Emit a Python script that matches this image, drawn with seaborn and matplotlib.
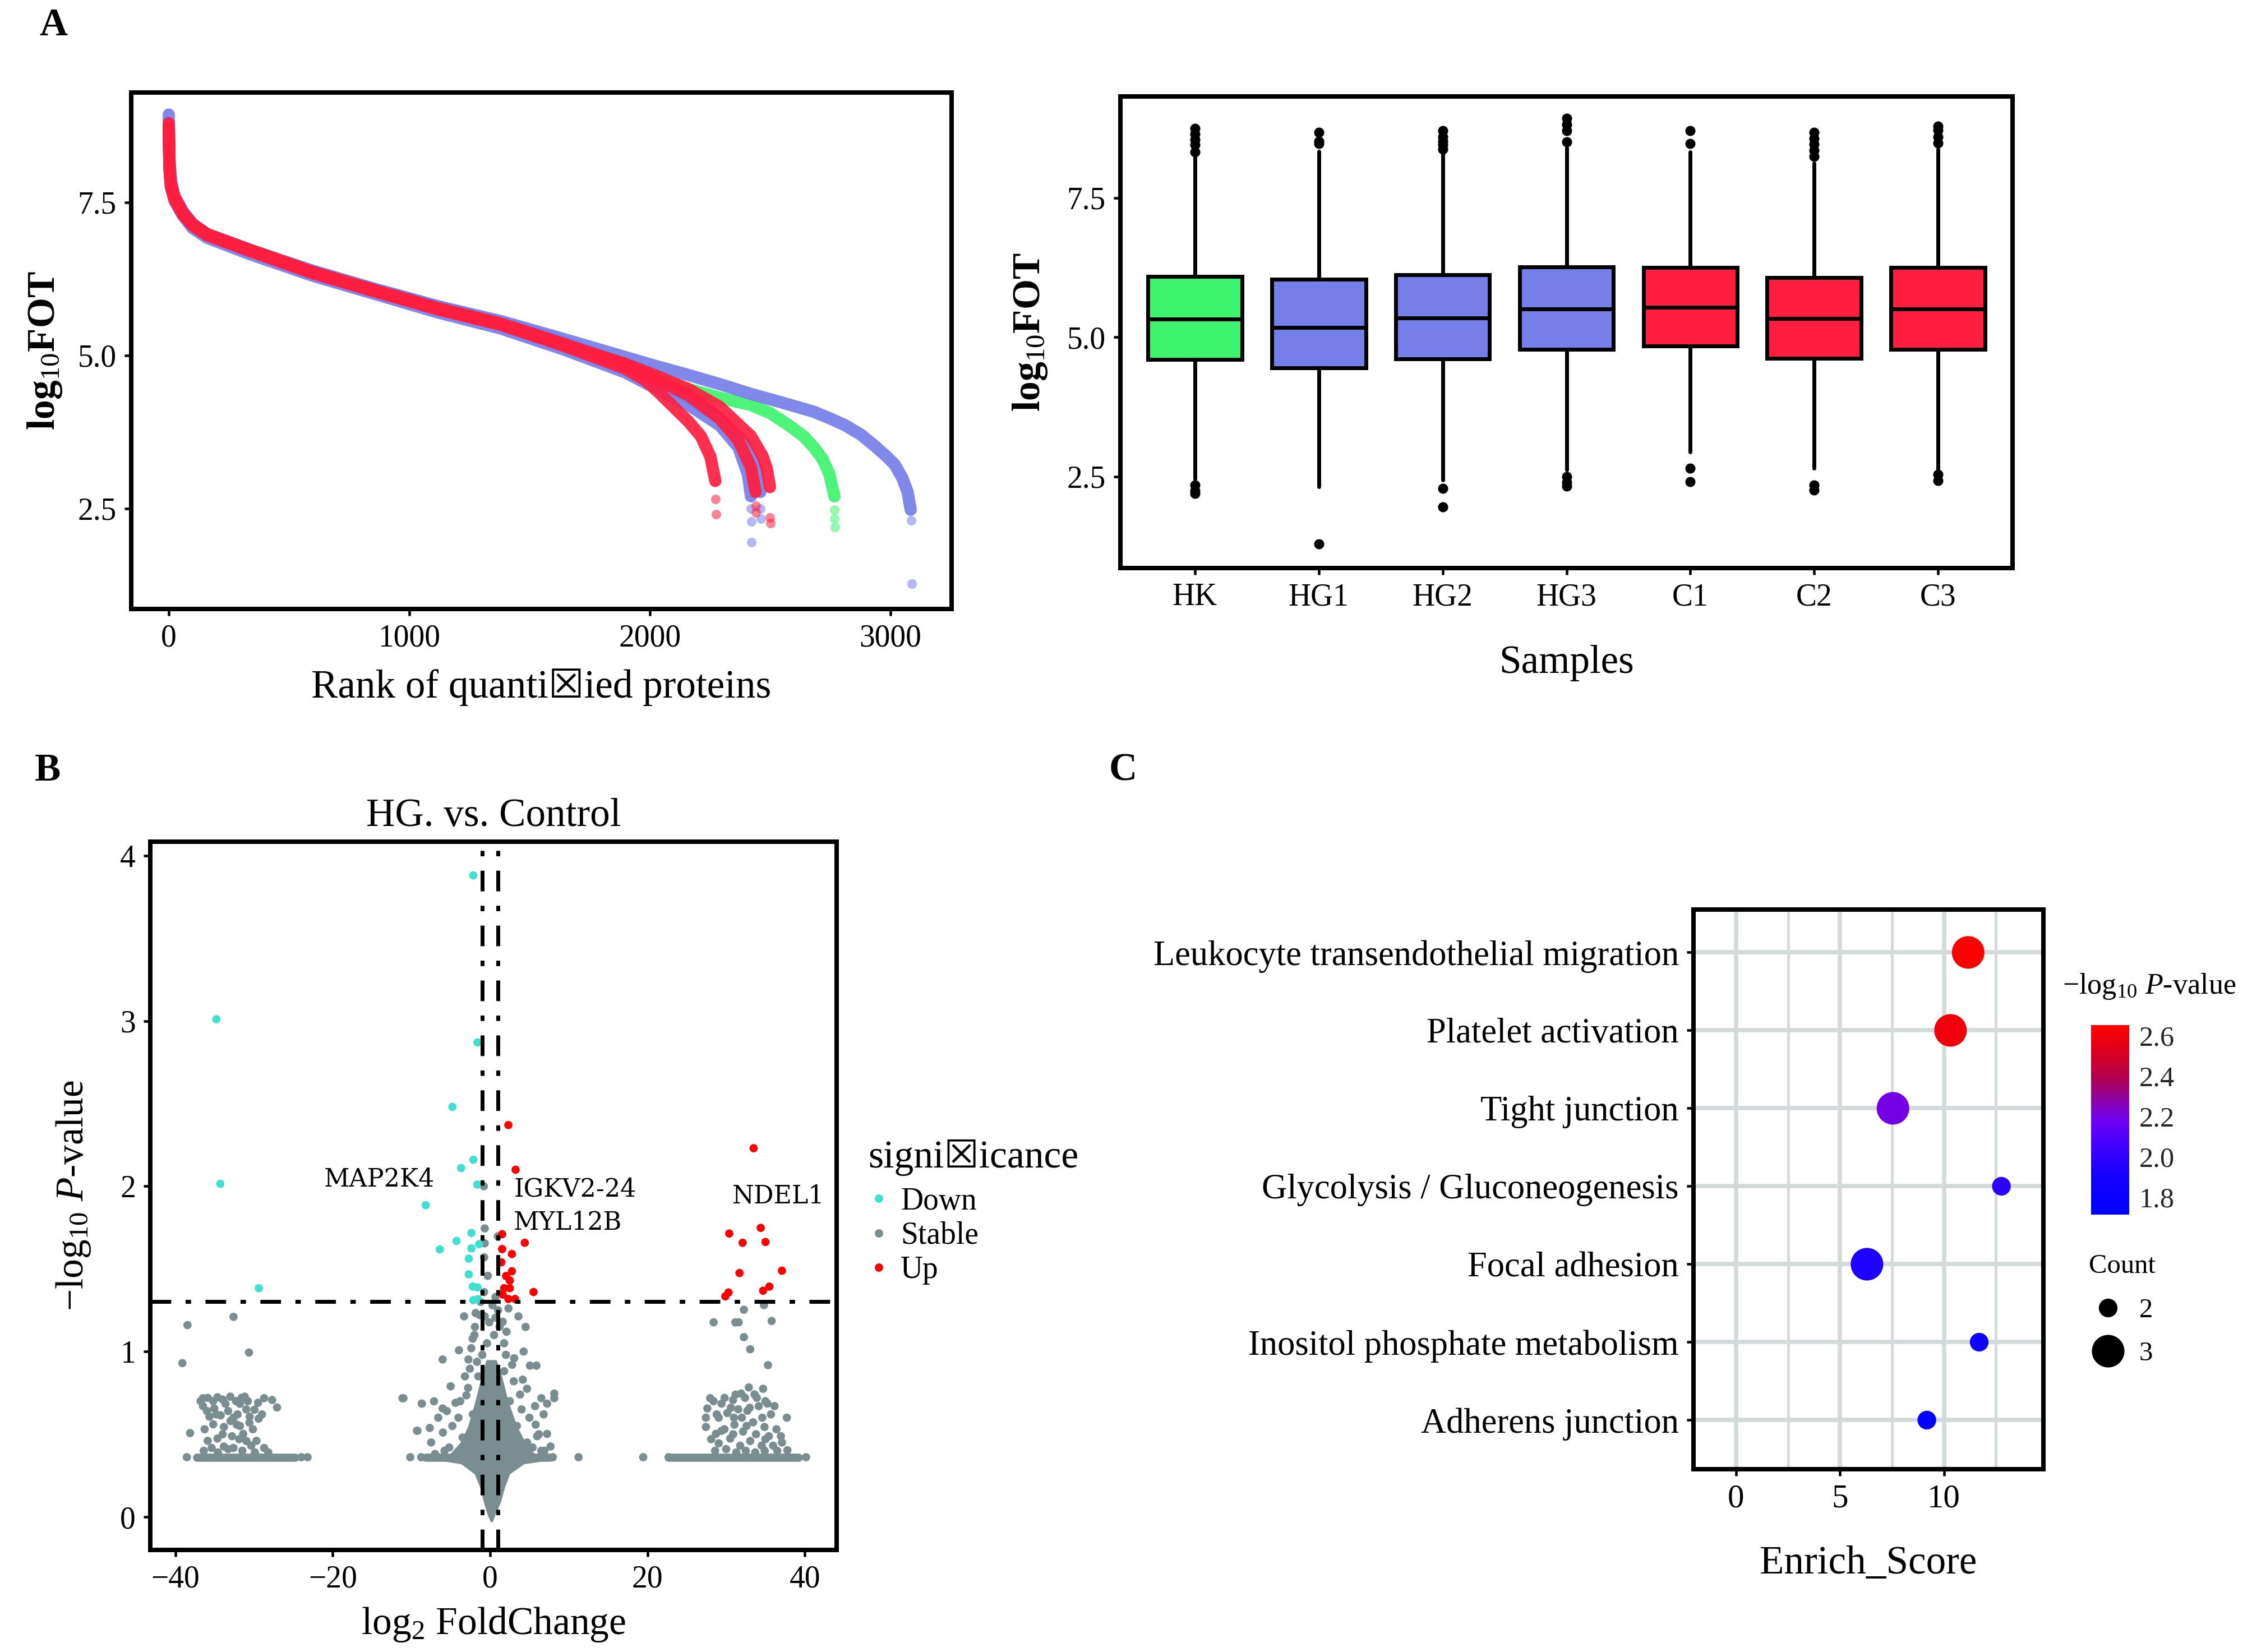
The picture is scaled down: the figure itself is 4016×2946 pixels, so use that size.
import numpy as np
import pandas as pd
import matplotlib
matplotlib.use("Agg")
import matplotlib.pyplot as plt
import seaborn as sns
from matplotlib.colors import LinearSegmentedColormap, Normalize
from matplotlib.cm import ScalarMappable
from matplotlib.lines import Line2D

# ---------------- data: panel A (rank plot) ----------------
rank_hk = [1, 4, 10, 25, 60, 100, 160, 340, 600, 860, 1120, 1380, 1640, 1900, 2005, 2161, 2300, 2421, 2500, 2578, 2640, 2682, 2720, 2747, 2768]
val_hk = [8.75, 8.2, 7.8, 7.55, 7.3, 7.12, 6.96, 6.7, 6.36, 6.06, 5.78, 5.52, 5.2, 4.86, 4.67, 4.45, 4.3, 4.19, 4.06, 3.86, 3.68, 3.50, 3.3, 3.06, 2.70]
tail_rank_hk = [2768, 2769, 2770]
tail_val_hk = [2.48, 2.33, 2.2]

rank_hg1 = [1, 4, 10, 25, 60, 100, 160, 340, 600, 860, 1120, 1380, 1640, 1900, 2031, 2161, 2300, 2421, 2550, 2682, 2750, 2812, 2880, 2942, 2990, 3020, 3050, 3072, 3085]
val_hg1 = [8.68, 8.15, 7.8, 7.58, 7.34, 7.14, 6.97, 6.72, 6.37, 6.08, 5.8, 5.56, 5.27, 4.97, 4.82, 4.68, 4.52, 4.37, 4.23, 4.08, 3.97, 3.86, 3.7, 3.50, 3.33, 3.21, 3.0, 2.77, 2.48]
tail_rank_hg1 = [3088, 3090]
tail_val_hg1 = [2.31, 1.27]

rank_hg2 = [1, 4, 10, 25, 60, 100, 160, 340, 600, 860, 1120, 1380, 1640, 1900, 2031, 2161, 2291, 2369, 2408, 2421]
val_hg2 = [8.71, 8.1, 7.75, 7.52, 7.28, 7.08, 6.92, 6.65, 6.3, 6.0, 5.7, 5.44, 5.1, 4.72, 4.45, 4.19, 3.86, 3.50, 3.06, 2.70]
tail_rank_hg2 = [2421, 2422, 2422]
tail_val_hg2 = [2.5, 2.29, 1.95]

rank_hg3 = [1, 4, 10, 25, 60, 100, 160, 340, 600, 860, 1120, 1380, 1640, 1900, 2031, 2161, 2291, 2395, 2447, 2460]
val_hg3 = [8.93, 8.2, 7.85, 7.6, 7.35, 7.15, 6.98, 6.72, 6.38, 6.08, 5.8, 5.54, 5.22, 4.85, 4.6, 4.3, 3.97, 3.57, 3.13, 2.77]
tail_rank_hg3 = [2461, 2462]
tail_val_hg3 = [2.5, 2.33]

rank_c1 = [1, 4, 10, 25, 60, 100, 160, 340, 600, 860, 1120, 1380, 1640, 1900, 1980, 2031, 2109, 2161, 2213, 2252, 2273]
val_c1 = [8.71, 8.05, 7.75, 7.55, 7.3, 7.12, 6.96, 6.7, 6.34, 6.04, 5.75, 5.5, 5.16, 4.78, 4.6, 4.42, 4.12, 3.92, 3.68, 3.35, 2.95]
tail_rank_c1 = [2274, 2275]
tail_val_c1 = [2.65, 2.41]

rank_c2 = [1, 4, 10, 25, 60, 100, 160, 340, 600, 860, 1120, 1380, 1640, 1900, 2031, 2161, 2291, 2421, 2470, 2487, 2500]
val_c2 = [8.68, 8.05, 7.76, 7.56, 7.31, 7.13, 6.97, 6.71, 6.35, 6.05, 5.76, 5.51, 5.18, 4.86, 4.66, 4.45, 4.16, 3.68, 3.35, 3.15, 2.85]
tail_rank_c2 = [2500, 2501]
tail_val_c2 = [2.35, 2.26]

rank_c3 = [1, 4, 10, 25, 60, 100, 160, 340, 600, 860, 1120, 1380, 1640, 1900, 2031, 2161, 2291, 2369, 2421, 2440]
val_c3 = [8.79, 8.1, 7.8, 7.58, 7.32, 7.14, 6.98, 6.72, 6.36, 6.06, 5.77, 5.52, 5.19, 4.84, 4.6, 4.35, 3.97, 3.61, 3.17, 2.77]
tail_rank_c3 = [2441, 2442]
tail_val_c3 = [2.54, 2.43]

# ---------------- data: panel A (boxplot summary) ----------------
samples = ["HK", "HG1", "HG2", "HG3", "C1", "C2", "C3"]
box_med = [5.33, 5.18, 5.35, 5.51, 5.54, 5.34, 5.51]
box_q1 = [4.60, 4.45, 4.61, 4.78, 4.84, 4.62, 4.78]
box_q3 = [6.09, 6.04, 6.12, 6.26, 6.25, 6.07, 6.25]
box_whislo = [2.46, 2.32, 2.44, 2.62, 2.94, 2.65, 2.60]
box_whishi = [8.22, 8.33, 8.31, 8.40, 8.32, 8.12, 8.37]
box_fliers = [
    [8.75, 8.65, 8.55, 8.45, 8.32, 2.35, 2.25, 2.2],
    [8.68, 8.52, 8.47, 1.29],
    [8.71, 8.6, 8.52, 8.45, 8.37, 2.29, 1.96],
    [8.93, 8.82, 8.71, 8.51, 2.50, 2.40, 2.33],
    [8.71, 8.47, 2.65, 2.41],
    [8.68, 8.57, 8.46, 8.35, 8.24, 2.35, 2.26],
    [8.79, 8.72, 8.6, 8.49, 2.54, 2.43],
]

# ---------------- data: panel B (volcano) ----------------
down_x = [-2.14, -34.8, -1.6, -4.79, -2.14, -3.69, -34.3, -1.64, -8.2, -2.38, -4.27, -1.4, -6.39, -2.38, -2.71, -2.71, -29.4, -2.2, -1.6, -2.14, -1.56]
down_y = [3.88, 3.01, 2.87, 2.48, 2.16, 2.11, 2.015, 2.01, 1.885, 1.717, 1.669, 1.649, 1.618, 1.624, 1.562, 1.467, 1.383, 1.393, 1.388, 1.311, 1.317]
up_x = [2.32, 3.24, 33.5, 1.53, 4.4, 1.53, 2.77, 1.42, 2.77, 2.03, 2.5, 1.78, 2.5, 5.52, 1.6, 2.32, 3.17,
        30.4, 34.4, 32.1, 35.0, 37.1, 31.7, 35.5, 34.7, 30.3, 29.9]
up_y = [2.37, 2.10, 2.23, 1.71, 1.658, 1.62, 1.59, 1.54, 1.486, 1.457, 1.43, 1.383, 1.383, 1.36, 1.345, 1.318, 1.318,
        1.714, 1.748, 1.658, 1.663, 1.489, 1.475, 1.393, 1.368, 1.357, 1.334]
stable_x = [
    # centre cloud
    -0.8, -0.69, 0.98, -0.69, -0.76, -0.29, -0.76, 0.69, -3.31, -1.85, -0.69, 0.69, 2.33, 3.6, -1.93, -0.11, 2.08, 4.51,
    -2.22, -0.4, 1.78, -3.96, 4.26, -6.04, -2.76, 3.06, 5.06, 5.89, -5.02, -2.58, -1.67, 1.78, 4.15, 4.69, -11.02, -8.69,
    -7.13, -6.04, -4.4, -3.02, 6.51, 8.15, 8.15, 5.71, 7.24, -9.24, -7.67, -6.0, -4.03, 5.79, 7.24, 7.68, 5.97, -10.15,
    11.24, 19.46, -8.76, 7.97, -1.2, 0.3, 1.2, -1.5, 2.5, -2.2, 3.4, -3.5, 4.7, -5.2, 6.5, -2.8, 3.0, -1.0, 1.0,
    -7.5, -6.6, -5.5, -4.8, -3.8, -5.8, -7.0, 4.0, 5.0, 6.2, 6.8, 5.4, 6.9, 3.8, -3.2, 2.8, -2.0, 1.6, -1.3, 0.5, 2.0, -2.4,
    # left cluster
    -38.47, -39.12, -32.62, -30.65, -38.14, -36.5, -34.66, -33.03, -31.19, -28.73, -27.71, -27.09, -36.5, -35.07, -33.64,
    -31.8, -29.96, -35.68, -34.25, -32.62, -30.57, -29.43, -36.3, -33.84, -32.21, -31.39, -30.16, -34.66, -32.82, -30.98,
    -35.4, -33.84, -32.62, -30.37, -28.73, -38.55, -23.21, -24.0, -11.14, -9.3, -8.68,
    -36.8, -35.9, -35.2, -34.0, -32.3, -31.6, -30.8, -29.5, -36.0, -34.8, -33.3, -31.0, -29.0, -35.2, -33.0, -31.8,
    -30.6, -34.0, -31.9, -29.7, -35.9, -33.3, -31.5, -29.9, -34.6, -36.4, -28.2, -32.1,
    # right cluster
    28.41, 31.17, 31.6, 32.26, 34.81, 35.79, 32.26, 33.06, 35.32, 32.88, 34.7, 27.97, 31.9, 29.43, 30.88, 33.61, 35.25,
    27.61, 29.06, 30.15, 31.54, 32.7, 34.15, 36.15, 27.43, 37.72, 27.43, 28.7, 29.79, 31.06, 32.15, 33.43, 34.88, 35.43,
    36.96, 29.06, 30.52, 31.79, 33.06, 34.52, 35.97, 37.79, 40.16, 22.7,
    28.4, 29.8, 31.2, 32.4, 33.9, 35.0, 28.8, 30.6, 32.0, 33.0, 34.6, 35.7, 28.1, 29.4, 30.9, 32.6, 33.8, 35.0, 36.4,
    28.6, 30.0, 31.3, 32.5, 33.7, 34.9, 36.5, 37.1, 31.0,
]
stable_y = [
    2.0, 1.745, 1.697, 1.655, 1.57, 1.458, 1.36, 1.33, 1.213, 1.233, 1.213, 1.205, 1.261, 1.213, 1.149, 1.177, 1.12, 1.149,
    1.078, 1.05, 1.05, 1.008, 1.0, 0.952, 0.952, 0.96, 0.915, 0.915, 0.79, 0.896, 0.938, 0.881, 0.83, 0.775, 0.718, 0.685,
    0.699, 0.656, 0.69, 0.735, 0.718, 0.746, 0.718, 0.67, 0.685, 0.521, 0.538, 0.51, 0.6, 0.558, 0.502, 0.426, 0.488, 0.361,
    0.361, 0.361, 0.361, 0.361, 1.3, 1.28, 1.15, 0.85, 0.7, 0.62, 0.55, 0.48, 0.45, 0.42, 0.40, 0.78, 0.82, 0.98, 1.25,
    0.45, 0.60, 0.64, 0.55, 0.70, 0.40, 0.38, 0.65, 0.60, 0.50, 0.62, 0.42, 0.40, 0.74, 0.85, 0.92, 1.10, 1.18, 1.22, 1.10, 0.98, 1.02,
    1.16, 0.93, 1.21, 0.994, 0.507, 0.718, 0.724, 0.727, 0.727, 0.718, 0.707, 0.662, 0.67, 0.656, 0.684,
    0.684, 0.648, 0.606, 0.614, 0.6, 0.606, 0.594, 0.53, 0.544, 0.558, 0.502, 0.53, 0.474, 0.488, 0.459,
    0.417, 0.426, 0.417, 0.431, 0.417, 0.361, 0.361, 0.361, 0.718, 0.521, 0.685,
    0.70, 0.72, 0.70, 0.71, 0.70, 0.72, 0.70, 0.69, 0.64, 0.62, 0.64, 0.65, 0.62, 0.56, 0.58, 0.55,
    0.57, 0.50, 0.47, 0.46, 0.46, 0.41, 0.40, 0.39, 0.39, 0.40, 0.39, 0.62,
    1.177, 1.177, 1.177, 1.253, 1.281, 1.185, 1.087, 1.014, 0.918, 0.783, 0.775, 0.718, 0.746, 0.685, 0.707, 0.741, 0.685,
    0.656, 0.6, 0.628, 0.651, 0.642, 0.67, 0.67, 0.6, 0.6, 0.544, 0.502, 0.53, 0.558, 0.516, 0.572, 0.544, 0.488,
    0.488, 0.445, 0.474, 0.431, 0.459, 0.431, 0.431, 0.403, 0.361, 0.361,
    0.70, 0.72, 0.74, 0.72, 0.72, 0.70, 0.62, 0.66, 0.60, 0.66, 0.60, 0.62, 0.47, 0.52, 0.50, 0.55, 0.50, 0.47, 0.53,
    0.40, 0.41, 0.39, 0.40, 0.39, 0.40, 0.40, 0.45, 0.60,
]
# dense rows of overlapping stable points (start, end) at the floor value
band_floor = 0.361
band_start = [-37.3, -8.2, 22.7]
band_end = [-24.8, 7.6, 39.2]
# dense funnel of stable points around log2FC = 0
funnel_y = [-0.03, 0.02, 0.09, 0.18, 0.26, 0.32, 0.345, 0.37]
funnel_lo = [0.05, -0.4, -0.83, -1.3, -2.0, -3.7, -6.9, -7.8]
funnel_hi = [0.3, 0.7, 1.35, 1.86, 2.5, 4.3, 7.8, 7.8]
core_y = [0.36, 0.45, 0.55, 0.7, 0.85, 0.95]
core_lo = [-5.5, -3.8, -2.8, -1.9, -1.1, -0.5]
core_hi = [6.0, 4.5, 3.4, 2.3, 1.5, 0.8]
gene_labels = ["MAP2K4", "IGKV2-24", "MYL12B", "NDEL1"]
gene_x = [-21.1, 3.0, 3.0, 30.8]
gene_y = [2.04, 1.98, 1.78, 1.94]

# ---------------- data: panel C (enrichment) ----------------
pathways = ["Leukocyte transendothelial migration", "Platelet activation", "Tight junction",
            "Glycolysis / Gluconeogenesis", "Focal adhesion", "Inositol phosphate metabolism",
            "Adherens junction"]
enrich_score = [11.17, 10.32, 7.55, 12.77, 6.3, 11.7, 9.18]
neglog_p = [2.65, 2.60, 2.20, 1.98, 1.93, 1.85, 1.74]
count = [3, 3, 3, 2, 3, 2, 2]

# ---------------- style ----------------
sns.set_theme(style="white")
plt.rcParams["font.family"] = ["Liberation Serif", "DejaVu Sans"]
plt.rcParams["mathtext.fontset"] = "custom"
plt.rcParams["mathtext.rm"] = "Liberation Serif"
plt.rcParams["mathtext.it"] = "Liberation Serif:italic"
plt.rcParams["mathtext.bf"] = "Liberation Serif:bold"
plt.rcParams["text.color"] = "black"
plt.rcParams["axes.labelcolor"] = "black"

W, H = 4016, 2946
fig = plt.figure(figsize=(W / 250, H / 250), dpi=250)
fig.patch.set_facecolor("white")


def rect(l, t, r, b):
    return [l / W, 1 - b / H, (r - l) / W, (b - t) / H]


def style(ax, lw=2.3, size=16):
    for s in ax.spines.values():
        s.set_visible(True)
        s.set_linewidth(lw)
        s.set_color("black")
    ax.tick_params(axis="both", which="major", bottom=True, left=True, direction="out",
                   length=3.5, width=1.3, color="black", labelsize=size, pad=4,
                   labelcolor="black")
    ax.grid(False)
    ax.set_facecolor("white")


GREEN, BLUE, RED = "#3EF46E", "#757EE9", "#FF1E40"
sample_colors = [GREEN, BLUE, BLUE, BLUE, RED, RED, RED]

# ---------------- Panel A left ----------------
ax1 = fig.add_axes(rect(234, 165, 1697, 1086))
curves = [(rank_hk, val_hk, tail_rank_hk, tail_val_hk, GREEN),
          (rank_hg1, val_hg1, tail_rank_hg1, tail_val_hg1, BLUE),
          (rank_hg2, val_hg2, tail_rank_hg2, tail_val_hg2, BLUE),
          (rank_hg3, val_hg3, tail_rank_hg3, tail_val_hg3, BLUE),
          (rank_c1, val_c1, tail_rank_c1, tail_val_c1, RED),
          (rank_c2, val_c2, tail_rank_c2, tail_val_c2, RED),
          (rank_c3, val_c3, tail_rank_c3, tail_val_c3, RED)]
for rk, vl, trk, tvl, col in curves:
    sns.lineplot(x=rk, y=vl, color=col, lw=6.3, alpha=0.92, ax=ax1, sort=False,
                 estimator=None, solid_capstyle="round", solid_joinstyle="round")
    sns.scatterplot(x=trk, y=tvl, color=col, s=24, alpha=0.55, linewidth=0, ax=ax1)
ax1.set_xlim(-155, 3255)
ax1.set_ylim(0.86, 9.29)
ax1.set_xticks([0, 1000, 2000, 3000])
ax1.set_yticks([2.5, 5.0, 7.5])
ax1.set_yticklabels(["2.5", "5.0", "7.5"])
style(ax1)
ax1.set_xlabel("Rank of quanti\u2612ied proteins", fontsize=20.5, labelpad=8)
ax1.set_ylabel("log$_{10}$FOT", fontsize=20, fontweight="bold", labelpad=7)

# ---------------- Panel A right (boxplot) ----------------
ax2 = fig.add_axes(rect(1998, 172, 3589, 1013))
stats = []
for i, nm in enumerate(samples):
    stats.append(dict(label=nm, med=box_med[i], q1=box_q1[i], q3=box_q3[i],
                      whislo=box_whislo[i], whishi=box_whishi[i], fliers=box_fliers[i]))
bp = ax2.bxp(stats, positions=list(range(len(samples))), widths=0.76, patch_artist=True,
             showcaps=False,
             boxprops=dict(linewidth=2.0, edgecolor="black"),
             medianprops=dict(linewidth=2.0, color="black"),
             whiskerprops=dict(linewidth=2.0, color="black"),
             flierprops=dict(marker="o", markerfacecolor="black", markeredgecolor="black",
                             markersize=4.2, linestyle="none"))
for patch, col in zip(bp["boxes"], sample_colors):
    patch.set_facecolor(col)
ax2.set_xlim(-0.6, 6.6)
ax2.set_ylim(0.86, 9.32)
ax2.set_yticks([2.5, 5.0, 7.5])
ax2.set_yticklabels(["2.5", "5.0", "7.5"])
ax2.set_xticks(list(range(len(samples))))
ax2.set_xticklabels(samples)
style(ax2)
ax2.set_xlabel("Samples", fontsize=20.5, labelpad=17)
ax2.set_ylabel("log$_{10}$FOT", fontsize=20, fontweight="bold", labelpad=9)

# ---------------- Panel B (volcano) ----------------
GRAY, CYAN, VRED = "#7A8E91", "#40E0D0", "#FF0000"
ax3 = fig.add_axes(rect(268, 1501, 1492, 2764))
ax3.fill_betweenx(funnel_y, funnel_lo, funnel_hi, color=GRAY, lw=0, zorder=1)
ax3.fill_betweenx(core_y, core_lo, core_hi, color=GRAY, lw=0, zorder=1)
for x0, x1 in zip(band_start, band_end):
    ax3.plot([x0, x1], [band_floor, band_floor], color=GRAY, lw=4.2, solid_capstyle="round", zorder=1)
vol = pd.DataFrame({
    "x": stable_x + down_x + up_x,
    "y": stable_y + down_y + up_y,
    "sig": ["Stable"] * len(stable_x) + ["Down"] * len(down_x) + ["Up"] * len(up_x),
})
sns.scatterplot(data=vol, x="x", y="y", hue="sig",
                palette={"Down": CYAN, "Stable": GRAY, "Up": VRED},
                s=18, linewidth=0, legend=False, ax=ax3, zorder=2)
dash = (5.3, 3.7, 1.4, 3.7)
for xv in (-1, 1):
    ax3.axvline(xv, color="black", lw=2.0, dashes=dash, zorder=3)
ax3.axhline(-np.log10(0.05), color="black", lw=2.0, dashes=dash, zorder=3)
for t, gx, gy in zip(gene_labels, gene_x, gene_y):
    ax3.text(gx, gy, t, fontsize=12.8, family="DejaVu Serif", ha="left", va="center", zorder=4)
ax3.set_xlim(-43.2, 44.05)
ax3.set_ylim(-0.2, 4.084)
ax3.set_xticks([-40, -20, 0, 20, 40])
ax3.set_xticklabels(["\u221240", "\u221220", "0", "20", "40"])
ax3.set_yticks([0, 1, 2, 3, 4])
style(ax3)
ax3.set_title("HG. vs. Control", fontsize=20.5, pad=8)
ax3.set_xlabel("log$_{2}$ FoldChange", fontsize=20, labelpad=6)
ax3.set_ylabel("\u2212log$_{10}$ $\\mathit{P}$-value", fontsize=20, labelpad=14)
handles = [Line2D([], [], marker="o", ls="", markersize=4.3, markerfacecolor=c,
                  markeredgewidth=0) for c in (CYAN, GRAY, VRED)]
leg = ax3.legend(handles, ["Down", "Stable", "Up"], title="signi\u2612icance",
                 loc="upper left", bbox_to_anchor=(1548 / W, 1 - 2032 / H),
                 bbox_transform=fig.transFigure, frameon=False, fontsize=16,
                 title_fontsize=20, handlelength=0.7, handletextpad=0.35,
                 labelspacing=0.17, borderpad=0, borderaxespad=0)
leg._legend_box.align = "left"
leg._legend_box.sep = 5.6

# ---------------- Panel C (enrichment dot plot) ----------------
cmap = LinearSegmentedColormap.from_list("bp", [
    (0.0, "#0000FF"), (0.2, "#1400FF"), (0.36, "#4000FF"), (0.5, "#7000F2"),
    (0.6, "#8A00A8"), (0.72, "#B00050"), (0.85, "#D80020"), (1.0, "#FF0000")])
norm = Normalize(vmin=1.712, vmax=2.653)
ax4 = fig.add_axes(rect(3020, 1622, 3644, 2620))
for xv in (0, 5, 10):
    ax4.axvline(xv, color="#D2DADA", lw=2.2, zorder=0)
for xv in (2.5, 7.5, 12.5):
    ax4.axvline(xv, color="#D2DADA", lw=1.4, zorder=0)
ypos = [len(pathways) - i for i in range(len(pathways))]
for yv in ypos:
    ax4.axhline(yv, color="#D2DADA", lw=2.2, zorder=0)
enr = pd.DataFrame({"pathway": pathways, "score": enrich_score, "p": neglog_p,
                    "Count": count, "ypos": ypos})
count_sizes = {2: 92, 3: 280}
sns.scatterplot(data=enr, x="score", y="ypos", hue="p", hue_norm=norm, palette=cmap,
                size="Count", sizes=count_sizes, linewidth=0, legend=False, ax=ax4, zorder=3)
ax4.set_xlim(-2.05, 14.79)
ax4.set_ylim(0.37, 7.55)
ax4.set_xticks([0, 5, 10])
ax4.set_yticks(ypos)
ax4.set_yticklabels(pathways)
style(ax4)
ax4.tick_params(axis="x", labelsize=17)
ax4.tick_params(axis="y", labelsize=18)
ax4.set_xlabel("Enrich_Score", fontsize=20.5, labelpad=16)
ax4.set_ylabel("")

cax = fig.add_axes(rect(3729, 1828, 3797, 2166))
cb = fig.colorbar(ScalarMappable(norm=norm, cmap=cmap), cax=cax)
cb.outline.set_visible(False)
cb.set_ticks([1.8, 2.0, 2.2, 2.4, 2.6])
cb.set_ticklabels(["1.8", "2.0", "2.2", "2.4", "2.6"])
cax.tick_params(axis="y", which="both", direction="in", color="white", length=3.8, width=1.4,
                left=True, right=True, labelsize=14.5, pad=5)
fig.text(3678 / W, 1 - 1759 / H, "\u2212log$_{10}$ $\\mathit{P}$-value", fontsize=15,
         ha="left", va="center")

size_handles = [Line2D([], [], marker="o", ls="", markersize=np.sqrt(count_sizes[k]),
                       markerfacecolor="black", markeredgewidth=0) for k in (2, 3)]
leg2 = fig.legend(size_handles, ["2", "3"], title="Count", loc="upper left",
                  bbox_to_anchor=(3725 / W, 1 - 2236 / H), frameon=False, fontsize=14,
                  title_fontsize=14, handlelength=1.4, handletextpad=0.45, labelspacing=0.69,
                  borderpad=0, borderaxespad=0)
leg2._legend_box.align = "left"
leg2._legend_box.sep = 10

# ---------------- panel letters ----------------
for letter, px, py in (("A", 95, 46), ("B", 85, 1375), ("C", 2003, 1375)):
    fig.text(px / W, 1 - py / H, letter, fontsize=20, fontweight="bold", ha="center", va="center")

fig.savefig("out.png", dpi=250, facecolor="white")
